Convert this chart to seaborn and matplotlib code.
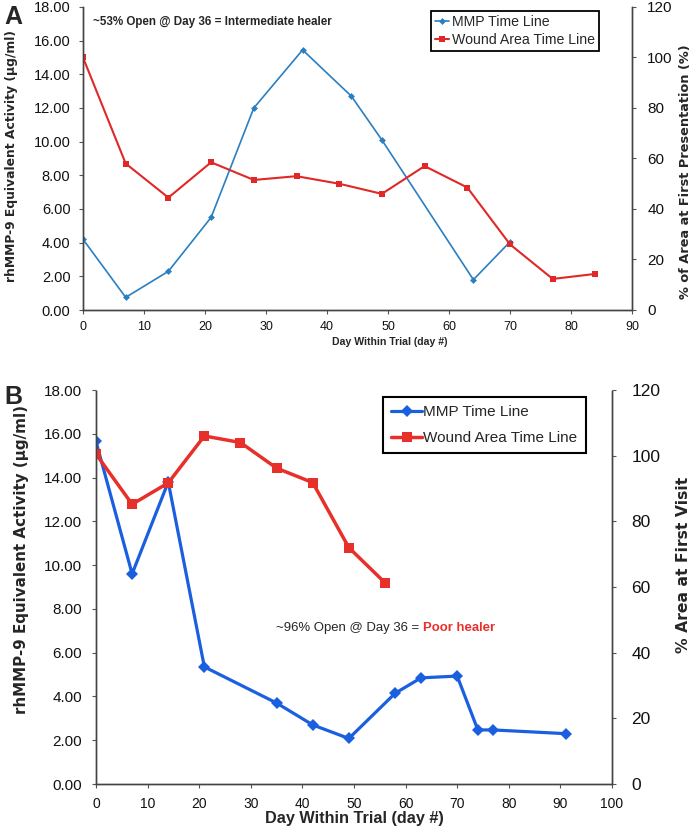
import matplotlib
matplotlib.use("Agg")
import matplotlib.pyplot as plt
import seaborn as sns
import pandas as pd
from matplotlib.ticker import FormatStrFormatter, MultipleLocator

# ---------------- data ----------------
a_mmp_day = [0, 7, 14, 21, 28, 36, 44, 49, 64, 70]
a_mmp_val = [4.2, 0.75, 2.3, 5.5, 12.0, 15.45, 12.7, 10.1, 1.8, 4.05]
a_wound_day = [0, 7, 14, 21, 28, 35, 42, 49, 56, 63, 70, 77, 84]
a_wound_pct = [100, 58, 44.5, 58.5, 51.5, 53, 50, 46, 57, 48.5, 26, 12.3, 14.3]

b_mmp_day = [0, 7, 14, 21, 35, 42, 49, 58, 63, 70, 74, 77, 91]
b_mmp_val = [15.65, 9.6, 13.8, 5.35, 3.7, 2.7, 2.08, 4.15, 4.85, 4.93, 2.47, 2.47, 2.3]
b_wound_day = [0, 7, 14, 21, 28, 35, 42, 49, 56]
b_wound_pct = [100.5, 85.2, 91.7, 106, 104, 96.2, 91.8, 72, 61.3]

legend_labels = ["MMP Time Line", "Wound Area Time Line"]
ylabel_left = "rhMMP-9 Equivalent Activity (\u00b5g/ml)"
a_ylabel_right = "% of Area at First Presentation (%)"
b_ylabel_right = "% Area at First Visit"
xlabel = "Day Within Trial (day #)"
a_note = "~53% Open @ Day 36 = Intermediate healer"
b_note = "~96% Open @ Day 36 = "
b_note_red = "Poor healer"

sns.set_style("white")
MAIN = ["Liberation Sans", "DejaVu Sans"]
VERD = ["DejaVu Sans"]
plt.rcParams["font.family"] = MAIN

W, H = 700, 830
fig = plt.figure(figsize=(7, 8.3), dpi=100)
renderer = fig.canvas.get_renderer()

def px_axes(l, t, r, b):
    return fig.add_axes([l / W, 1 - b / H, (r - l) / W, (b - t) / H])

def fit(t, target, dim="w"):
    bb = t.get_window_extent(renderer)
    cur = bb.width if dim == "w" else bb.height
    t.set_fontsize(t.get_fontsize() * target / cur)

def ftext(x, y, s, **kw):
    return fig.text(x / W, 1 - y / H, s, **kw)

def style_axes(ax, ax2, xmax, lfs, rfs, xfs, lpad, rpad, xpad):
    for a in (ax, ax2):
        a.spines["top"].set_visible(False)
        for s in ("left", "right", "bottom"):
            a.spines[s].set_linestyle((0, (1, 1)))
            a.spines[s].set_color("#444444")
            a.spines[s].set_linewidth(1.0)
    ax.set_xlim(0, xmax)
    ax.xaxis.set_major_locator(MultipleLocator(10))
    ax.set_ylim(0, 18)
    ax.yaxis.set_major_locator(MultipleLocator(2))
    ax.yaxis.set_major_formatter(FormatStrFormatter("%.2f"))
    ax2.set_ylim(0, 120)
    ax2.yaxis.set_major_locator(MultipleLocator(20))
    ax.tick_params(axis="y", direction="out", length=3, width=0.8, color="#555555",
                   labelsize=lfs, left=True, pad=lpad, labelcolor="#111111")
    ax.tick_params(axis="x", direction="out", length=3, width=0.8, color="#555555",
                   labelsize=xfs, bottom=True, pad=xpad, labelcolor="#111111")
    ax2.tick_params(axis="y", direction="out", length=3, width=0.8, color="#555555",
                    labelsize=rfs, right=True, pad=rpad, labelcolor="#111111")
    ax.set_xlabel("")
    ax.set_ylabel("")
    ax2.set_ylabel("")

# ---------------- Panel A ----------------
axA = px_axes(83, 7, 632, 310)
axA2 = axA.twinx()
dfa1 = pd.DataFrame({"day": a_mmp_day, "val": a_mmp_val})
dfa2 = pd.DataFrame({"day": a_wound_day, "val": a_wound_pct})
sns.lineplot(data=dfa1, x="day", y="val", ax=axA, color="#2a7fc0", marker="D",
             markersize=3.5, markeredgewidth=0, linewidth=1.2, legend=False)
sns.lineplot(data=dfa2, x="day", y="val", ax=axA2, color="#e02828", marker="s",
             markersize=4.5, markeredgewidth=0, linewidth=1.5, legend=False)
style_axes(axA, axA2, 90, 10.5, 11, 9, 6, 8, 5)

t = ftext(12, 156, ylabel_left, rotation=90, ha="center", va="center",
          fontweight="bold", family=VERD, fontsize=8)
fit(t, 252, "h")
t = ftext(686, 172, a_ylabel_right, rotation=90, ha="center", va="center",
          fontweight="bold", family=VERD, fontsize=8)
fit(t, 255, "h")
t = ftext(390, 342, xlabel, ha="center", va="center", fontweight="bold", fontsize=8)
fit(t, 117, "w")
t = ftext(93, 22, a_note, ha="left", va="center", fontweight="bold", fontsize=8)
fit(t, 239, "w")
ftext(4, 17, "A", fontsize=18, fontweight="bold", va="center", ha="left")

hA = axA.get_lines()[:1] + axA2.get_lines()[:1]
legA = axA2.legend(hA, legend_labels, loc="upper left",
                   bbox_to_anchor=(431 / W, 1 - 11 / H), bbox_transform=fig.transFigure,
                   fontsize=10.2, frameon=True, fancybox=False, handlelength=1.0,
                   handletextpad=0.15, borderpad=0.3, labelspacing=0.25, borderaxespad=0)
legA.get_frame().set_edgecolor("black")
legA.get_frame().set_linewidth(1.3)
legA.get_frame().set_alpha(1)

# ---------------- Panel B ----------------
axB = px_axes(96, 390, 612, 784)
axB2 = axB.twinx()
dfb1 = pd.DataFrame({"day": b_mmp_day, "val": b_mmp_val})
dfb2 = pd.DataFrame({"day": b_wound_day, "val": b_wound_pct})
sns.lineplot(data=dfb1, x="day", y="val", ax=axB, color="#1a5fe0", marker="D",
             markersize=6, markeredgewidth=0, linewidth=2.3, legend=False)
sns.lineplot(data=dfb2, x="day", y="val", ax=axB2, color="#e8302a", marker="s",
             markersize=7.5, markeredgewidth=0, linewidth=2.5, legend=False)
style_axes(axB, axB2, 100, 11, 12.5, 10, 7, 11, 6)

t = ftext(22, 560, ylabel_left, rotation=90, ha="center", va="center",
          fontweight="bold", family=VERD, fontsize=9)
fit(t, 308, "h")
t = ftext(684, 565, b_ylabel_right, rotation=90, ha="center", va="center",
          fontweight="bold", family=VERD, fontsize=12)
fit(t, 176, "h")
t = ftext(354, 818, xlabel, ha="center", va="center", fontweight="bold", fontsize=12)
fit(t, 178, "w")

tb = ftext(276, 628, b_note, ha="left", va="center", fontsize=11)
tr = ftext(0, 628, b_note_red, ha="left", va="center", fontsize=11,
           fontweight="bold", color="#e8302a")
w1 = tb.get_window_extent(renderer).width
w2 = tr.get_window_extent(renderer).width
s = 220 / (w1 + w2)
tb.set_fontsize(11 * s)
tr.set_fontsize(11 * s)
w1 = tb.get_window_extent(renderer).width
tr.set_x((276 + w1) / W)
ftext(4, 397, "B", fontsize=18, fontweight="bold", va="center", ha="left")

hB = axB.get_lines()[:1] + axB2.get_lines()[:1]
legB = axB2.legend(hB, legend_labels, loc="upper left",
                   bbox_to_anchor=(383 / W, 1 - 397 / H), bbox_transform=fig.transFigure,
                   fontsize=11, frameon=True, fancybox=False, handlelength=2.0,
                   handletextpad=0.1, borderpad=0.55, labelspacing=0.75, borderaxespad=0)
legB.get_frame().set_edgecolor("black")
legB.get_frame().set_linewidth(1.5)
legB.get_frame().set_alpha(1)

fig.savefig("out.png", dpi=100)
